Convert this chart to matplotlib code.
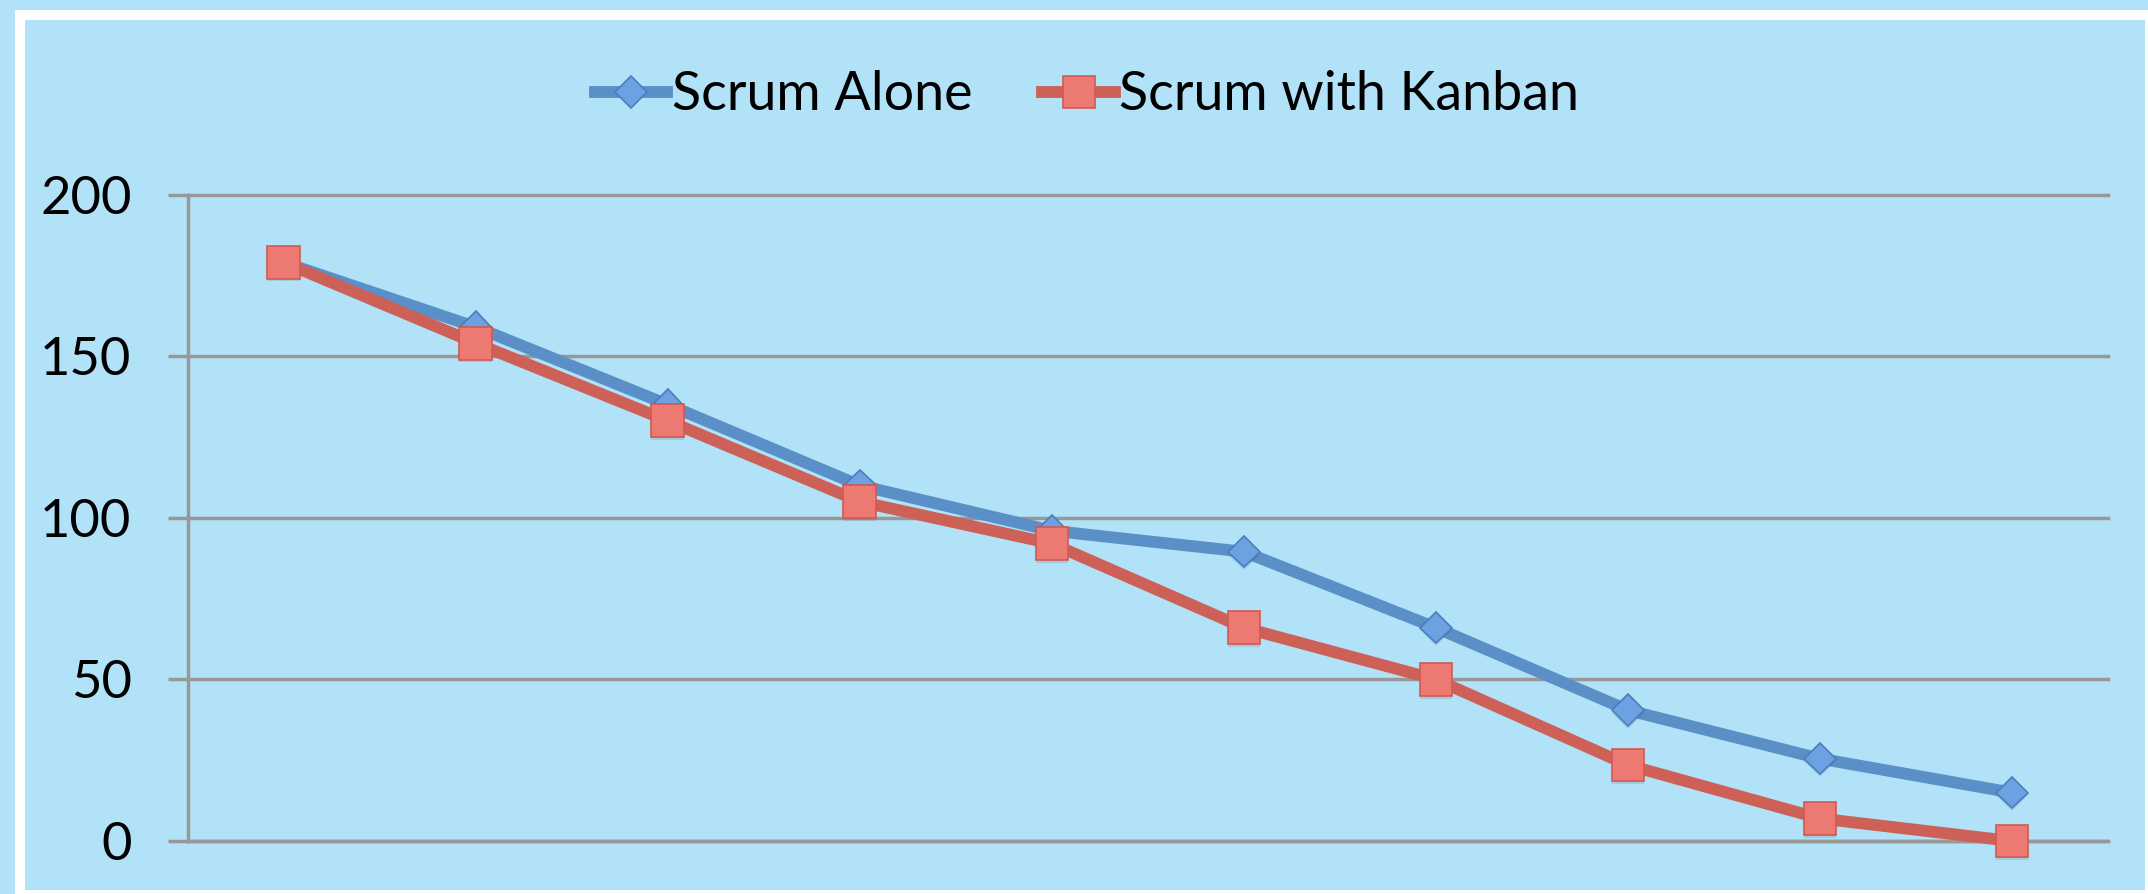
import matplotlib.pyplot as plt
import matplotlib.patches as patches
import matplotlib.patheffects as pe

# data
sprints = [1, 2, 3, 4, 5, 6, 7, 8, 9, 10]
scrum_alone = [179, 159, 135, 110, 96, 89.5, 66, 40.5, 25.5, 15]
scrum_kanban = [179, 154, 130, 105, 92, 66, 50, 23.5, 7, 0]
yticks = [0, 50, 100, 150, 200]

bg = '#b1e2f7'
grey = '#989898'
blue = '#5b8fc7'
red = '#cd6158'

plt.rcParams['font.family'] = ['Lato', 'DejaVu Sans']

fig = plt.figure(figsize=(21.48, 8.94), dpi=100, facecolor=bg)

# white frame round the plot area
W, H = 2148, 894
fig.patches.append(patches.Rectangle((15 / W, 0), 1, 1 - 10 / H, transform=fig.transFigure,
                                     facecolor='white', edgecolor='none', zorder=-10))
fig.patches.append(patches.Rectangle((25 / W, 4 / H), (2145 - 25) / W, (890 - 20) / H,
                                     transform=fig.transFigure, facecolor=bg, edgecolor='none', zorder=-9))

ax = fig.add_axes([187.7 / W, 1 - 841.1 / H, (2108 - 187.7) / W, (841.1 - 194.5) / H])
ax.set_facecolor('none')
ax.set_zorder(1)

shadow = [pe.SimplePatchShadow(offset=(0, -2), alpha=0.12, shadow_rgbFace='#203040'), pe.Normal()]

ax.plot(sprints, scrum_alone, '-', color=blue, lw=8.5, solid_capstyle='butt', zorder=3,
        clip_on=False)
ax.plot(sprints, scrum_kanban, '-', color=red, lw=8.5, solid_capstyle='butt', zorder=4,
        clip_on=False)
ax.plot(sprints, scrum_alone, 'D', ms=16, mfc='#6ca1e2', mec='#4a7ebd', mew=1.2,
        zorder=5, clip_on=False, path_effects=shadow)
ax.plot(sprints, scrum_kanban, 's', ms=23.5, mfc='#ec7a73', mec='#d05a52', mew=1.2,
        zorder=6, clip_on=False, path_effects=shadow)

# legend handles: line with marker on it
h1, = ax.plot([], [], '-D', color=blue, lw=8.5, ms=16, mfc='#6ca1e2', mec='#4a7ebd', mew=1.2)
h2, = ax.plot([], [], '-s', color=red, lw=8.5, ms=23.5, mfc='#ec7a73', mec='#d05a52', mew=1.2)
fig.legend([h1, h2], ['Scrum Alone', 'Scrum with Kanban'], loc='center',
           bbox_to_anchor=(1087 / W, 1 - 95 / H), ncol=2, frameon=False, fontsize=38.8,
           handlelength=1.35, handletextpad=0.08, columnspacing=1.3)

ax.set_xlim(0.5, 10.5)
ax.set_ylim(0, 200)
ax.set_yticks(yticks)
ax.set_xticks([])
ax.tick_params(axis='y', length=14.4, width=2.5, color=grey, labelsize=37.8, pad=26)
ax.grid(axis='y', color=grey, lw=2.5)
for gl in ax.get_ygridlines():
    gl.set_clip_on(False)
ax.set_axisbelow(True)
for s in ['top', 'right']:
    ax.spines[s].set_visible(False)
ax.spines['left'].set_color(grey)
ax.spines['left'].set_linewidth(2.5)
ax.spines['bottom'].set_color(grey)
ax.spines['bottom'].set_linewidth(2.5)

fig.savefig('out.png', dpi=100, facecolor=bg)
